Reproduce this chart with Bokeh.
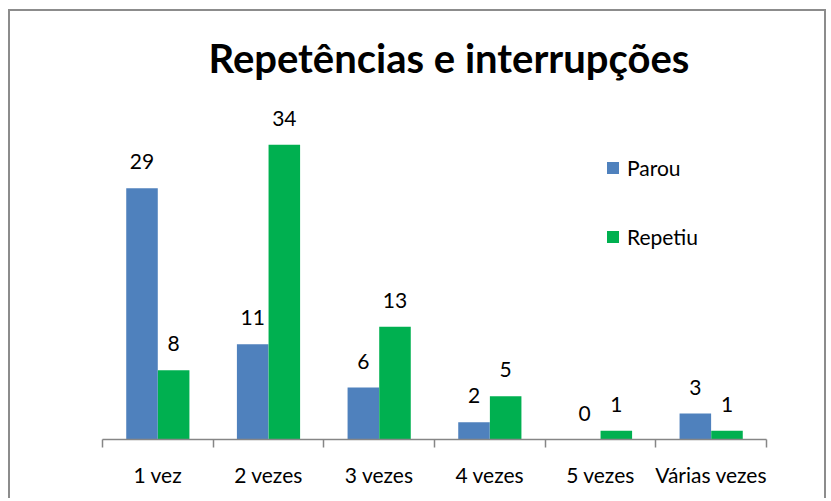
from bokeh.plotting import figure
from bokeh.models import ColumnDataSource, Range1d, FixedTicker, Legend, LegendItem
from bokeh.transform import dodge
from bokeh.core.properties import value
from bokeh.embed import file_html
from bokeh.resources import INLINE

categories = ["1 vez", "2 vezes", "3 vezes", "4 vezes", "5 vezes", "Várias vezes"]
parou = [29, 11, 6, 2, 0, 3]
repetiu = [8, 34, 13, 5, 1, 1]

BLUE = "#4F81BD"
GREEN = "#00B050"
GRAY = "#868686"
FONT = "Lato"

idx = list(range(len(categories)))
src = ColumnDataSource(dict(
    xi=idx, cat=categories, parou=parou, repetiu=repetiu,
    parou_txt=[str(v) for v in parou], repetiu_txt=[str(v) for v in repetiu],
))

p = figure(width=818, height=489, output_backend="svg", toolbar_location=None,
           x_range=Range1d(-0.5, len(categories) - 0.5), y_range=Range1d(0, 39),
           min_border_left=92, min_border_right=62, min_border_top=89, min_border_bottom=61,
           title="Repetências e interrupções")
p.styles = {"margin-left": "8px", "margin-top": "9px",
            "border-top": "2px solid #8c8c8c", "border-left": "2px solid #8c8c8c",
            "border-right": "2px solid #8c8c8c"}
p.outline_line_color = None
p.grid.visible = False
p.yaxis.visible = False

p.title.align = "left"
p.title.offset = 106
p.title.standoff = 40
p.title.text_font = FONT
p.title.text_font_size = "40px"
p.title.text_font_style = "bold"
p.title.text_color = "black"

ax = p.xaxis[0]
ax.ticker = FixedTicker(ticks=idx, minor_ticks=[i - 0.5 for i in range(len(categories) + 1)])
ax.major_label_overrides = {i: c for i, c in zip(idx, categories)}
ax.major_tick_line_color = None
ax.major_tick_out = 0
ax.major_tick_in = 0
ax.minor_tick_line_color = GRAY
ax.minor_tick_out = 8
ax.minor_tick_in = 0
ax.axis_line_color = GRAY
ax.axis_line_width = 1.5
ax.minor_tick_line_width = 1.5
ax.major_label_text_font = FONT
ax.major_label_text_font_size = "21px"
ax.major_label_text_color = "black"
ax.major_label_standoff = 14

W = 0.285
OFF = 0.143
r1 = p.vbar(x=dodge("xi", -OFF), top="parou", width=W, source=src, fill_color=BLUE, line_color=None)
r2 = p.vbar(x=dodge("xi", OFF), top="repetiu", width=W, source=src, fill_color=GREEN, line_color=None)

p.text(x=dodge("xi", -OFF), y="parou", text="parou_txt", source=src, text_align="center",
       text_baseline="bottom", y_offset=-19, text_font=value(FONT), text_font_size="21px",
       text_color="black")
p.text(x=dodge("xi", OFF), y="repetiu", text="repetiu_txt", source=src, text_align="center",
       text_baseline="bottom", y_offset=-19, text_font=value(FONT), text_font_size="21px",
       text_color="black")

legend = Legend(items=[LegendItem(label="Parou", renderers=[r1]),
                       LegendItem(label="Repetiu", renderers=[r2])],
                location=(503, 190))
legend.border_line_color = None
legend.background_fill_alpha = 0
legend.padding = 0
legend.margin = 0
legend.spacing = 44
legend.glyph_width = 15
legend.glyph_height = 15
legend.label_height = 20
legend.label_standoff = 7
legend.label_text_font = FONT
legend.label_text_font_size = "21px"
legend.label_text_color = "black"
p.add_layout(legend)

open("out.html", "w").write(file_html(p, INLINE))
